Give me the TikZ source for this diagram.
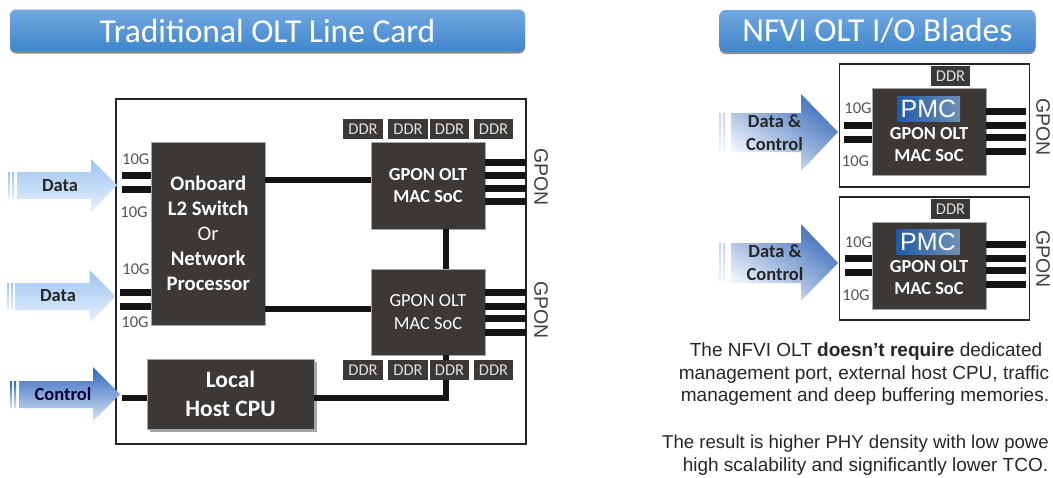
\documentclass[tikz,border=0pt]{standalone}
\usepackage{fontspec}
\setmainfont{Carlito}
\newfontfamily\arialfont{Liberation Sans}
\usetikzlibrary{shadows}
\definecolor{chipc}{HTML}{3B3836}
\definecolor{linkc}{HTML}{141414}
\definecolor{greyt}{HTML}{555555}
\definecolor{titletop}{HTML}{72A8E0}
\definecolor{titlebot}{HTML}{3F86CC}
\definecolor{lighttop}{HTML}{9DC3F0}
\definecolor{lightbot}{HTML}{E6F1FD}
\definecolor{darktop}{HTML}{2F66C0}
\definecolor{darkmid}{HTML}{3F72CC}
\definecolor{darkbot}{HTML}{D6E3F6}
\definecolor{midtop}{HTML}{3F70BC}
\definecolor{midbot}{HTML}{F2F6FC}
\definecolor{pmcleft}{HTML}{1F5AA8}
\definecolor{pmcright}{HTML}{6F8FB5}
\newcommand{\fsz}[1]{\fontsize{#1}{#1}\selectfont}
\tikzset{
  x=1pt,y=-1pt,
  titlebar/.style={rounded corners=6pt,inner sep=0,outer sep=0,text=white,
    top color=titletop,bottom color=titlebot,font=\fsz{33.5},minimum height=42,
    drop shadow={shadow xshift=0pt,shadow yshift=-2pt,opacity=.45,fill=black}},
  card/.style={draw=black!85,line width=1.4pt,inner sep=0,outer sep=0,fill=white},
  chip/.style={fill=chipc,draw=black!35,line width=.4pt,inner sep=0,outer sep=0,text=white,align=center},
  ddrbox/.style={fill=chipc,inner sep=0,outer sep=0,minimum width=39.5,minimum height=20,
    text=black!12,font=\fsz{16.5}},
  pin/.style={draw=linkc,line width=7pt},
  link/.style={draw=linkc,line width=6pt},
  tenG/.style={text=greyt,font=\fsz{16.5},inner sep=0},
  gpon/.style={rotate=-90,text=black!75,font=\arialfont\fsz{19.5},inner sep=0},
  note/.style={text=black!85,font=\arialfont\fsz{19},inner sep=0},
  flowtext/.style={text=black!85,font=\bfseries\fontsize{18.5}{23}\selectfont,inner sep=0,align=center},
  chiptext/.style={text=white,inner sep=0,align=center,font=\bfseries\fontsize{18.4}{22}\selectfont},
  pmc/.style={inner sep=0,outer sep=0,minimum width=63,minimum height=25,text=white,
    left color=pmcleft,right color=pmcright,font=\arialfont\fsz{25}},
  lightflow/.style={top color=lighttop,bottom color=lightbot},
  darkflow/.style={top color=darktop,middle color=darkmid,bottom color=darkbot},
  midflow/.style={top color=midtop,bottom color=midbot,shading angle=-35},
  midstripe/.style={top color=midtop!30,bottom color=midbot},
}
\begin{document}
\begin{tikzpicture}
\useasboundingbox (0,0) rectangle (1053,477);
\fill[white] (0,0) rectangle (1053,477);

% titles
\node[titlebar,minimum width=515] (t1) at (267.5,30.5) {Traditional OLT Line Card};
\node[titlebar,minimum width=316] (t2) at (877.5,31) {NFVI OLT I/O Blades};

% ---------- traditional line card
\node[card,minimum width=410,minimum height=345] (card) at (321,271.5) {};

% flow arrows
\shade[lightflow] (17,172) -- (91,172) -- (91,159) -- (117,185) -- (91,212) -- (91,199) -- (17,199) -- cycle;
\shade[lightflow] (8,172) rectangle (10,199) (12,172) rectangle (14,199);
\shade[lightflow] (15,283) -- (89.5,283) -- (89.5,270) -- (115.5,296) -- (89.5,323) -- (89.5,310) -- (15,310) -- cycle;
\shade[lightflow] (7,283) rectangle (9,310) (11,283) rectangle (13,310);
\shade[darkflow] (19,381) -- (93,381) -- (93,367) -- (120,394) -- (93,421) -- (93,408) -- (19,408) -- cycle;
\shade[darkflow] (10,381) rectangle (12,408) (14,381) rectangle (16,408);
\node[flowtext] (fd1) at (60,186) {Data};
\node[flowtext] (fd2) at (58,296) {Data};
\node[flowtext,text=black!80!blue] (fc) at (63,394) {Control};

% chips
\node[chip,minimum width=113.5,minimum height=183,font=\bfseries\fontsize{20.7}{25}\selectfont] (sw) at (208.2,233.5)
  {Onboard\\L2 Switch\\{\mdseries Or}\\Network\\Processor};
\node[chip,minimum width=114,minimum height=87,font=\bfseries\fontsize{18.4}{22.5}\selectfont] (soc1) at (428,185.5) {GPON OLT\\MAC SoC};
\node[chip,minimum width=114,minimum height=86,font=\fontsize{18.4}{22.5}\selectfont] (soc2) at (428,312) {GPON OLT\\MAC SoC};
\node[chip,minimum width=167,minimum height=70,font=\bfseries\fontsize{23.5}{29}\selectfont,
  drop shadow={shadow xshift=3pt,shadow yshift=-3pt,opacity=.35,fill=black}] (cpu) at (230.5,394) {Local\\Host CPU};

% links
\draw[pin] (121.5,175) coordinate (a1) -- (a1 -| sw.west);
\draw[pin] (121.5,189) coordinate (a2) -- (a2 -| sw.west);
\draw[pin] (119.5,292) coordinate (a3) -- (a3 -| sw.west);
\draw[pin] (119.5,306) coordinate (a4) -- (a4 -| sw.west);
\draw[link] (sw.east |- 0,180) -- (soc1.west |- 0,180);
\draw[link] (sw.east |- 0,309) -- (soc2.west |- 0,309);
\draw[link] (soc1.south -| 446,0) -- (soc2.north -| 446,0);
\draw[link] (121.5,398) coordinate (a5) -- (a5 -| cpu.west);
\draw[link] (cpu.east |- 0,398) -| (soc2.south -| 446,0);
\foreach \y in {162,175,188,201}
  \draw[pin] (soc1.east |- 0,\y) -- (card.east |- 0,\y);
\foreach \y in {292,306,318,332}
  \draw[pin] (soc2.east |- 0,\y) -- (card.east |- 0,\y);

% DDR
\node[ddrbox] (d1) at (363,129) {DDR};
\node[ddrbox] (d2) at (408,129) {DDR};
\node[ddrbox] (d3) at (449.5,129) {DDR};
\node[ddrbox] (d4) at (493.5,129) {DDR};
\node[ddrbox] (d5) at (363,370) {DDR};
\node[ddrbox] (d6) at (408,370) {DDR};
\node[ddrbox] (d7) at (449.5,370) {DDR};
\node[ddrbox] (d8) at (493.5,370) {DDR};

% labels
\node[tenG] (g1) at (135.8,159) {10G};
\node[tenG] (g2) at (134,212) {10G};
\node[tenG] (g3) at (136,269) {10G};
\node[tenG] (g4) at (135,322) {10G};
\node[gpon] (gp1) at (541,177) {GPON};
\node[gpon] (gp2) at (541,310) {GPON};

% ---------- NFVI blades
\node[card,minimum width=189.5,minimum height=123] (b1) at (934.5,125.5) {};
\node[card,minimum width=190.5,minimum height=123] (b2) at (934.5,258.5) {};

\shade[midflow] (731,113) -- (801,113) -- (801,94) -- (838,132) -- (801,171) -- (801,152) -- (731,152) -- cycle;
\shade[midstripe] (719,113) rectangle (721,152) (723,113) rectangle (725,152);
\shade[midflow] (731,243) -- (801,243) -- (801,224) -- (838,263) -- (801,301) -- (801,283) -- (731,283) -- cycle;
\shade[midstripe] (719,243) rectangle (721,283) (723,243) rectangle (725,283);
\node[flowtext] (fb1) at (774.5,133) {Data \&\\Control};
\node[flowtext] (fb2) at (775,263) {Data \&\\Control};

\node[chip,minimum width=114.5,minimum height=87] (c1) at (929,132) {};
\node[chip,minimum width=114,minimum height=87] (c2) at (929,265.5) {};

\foreach \y in {125,139} \draw[pin] (844,\y) coordinate (q) -- (c1.west |- q);
\foreach \y in {258,272} \draw[pin] (845,\y) coordinate (q) -- (c2.west |- q);
\foreach \y in {111,125,137,151} \draw[pin] (c1.east |- 0,\y) -- (1026,\y);
\foreach \y in {244,258,270,284} \draw[pin] (c2.east |- 0,\y) -- (1026,\y);

\node[ddrbox,minimum width=39] (d9) at (950.5,76) {DDR};
\node[ddrbox,minimum width=39] (d10) at (950.5,209) {DDR};

\node[pmc] (l1) at (928.5,108.5) {PMC};
\node[pmc] (l2) at (928,241.5) {PMC};
\node[chiptext] (s1) at (929,144.5) {GPON OLT\\MAC SoC};
\node[chiptext] (s2) at (929,277.5) {GPON OLT\\MAC SoC};

\node[tenG] (g5) at (858,108) {10G};
\node[tenG] (g6) at (855.5,161) {10G};
\node[tenG] (g7) at (858.5,242) {10G};
\node[tenG] (g8) at (856,295) {10G};
\node[gpon] (gp3) at (1043,127) {GPON};
\node[gpon] (gp4) at (1043,259) {GPON};

% notes
\node[note] (n1) at (866,352) {The NFVI OLT \textbf{doesn’t require} dedicated};
\node[note] (n2) at (864,375) {management port, external host CPU, traffic};
\node[note] (n3) at (865,397) {management and deep buffering memories.};
\node[note,anchor=west,font=\arialfont\fsz{18.6}] (n4) at (662,444) {The result is higher PHY density with low powe};
\node[note] (n5) at (865.5,467) {high scalability and significantly lower TCO.};
\end{tikzpicture}
\end{document}
